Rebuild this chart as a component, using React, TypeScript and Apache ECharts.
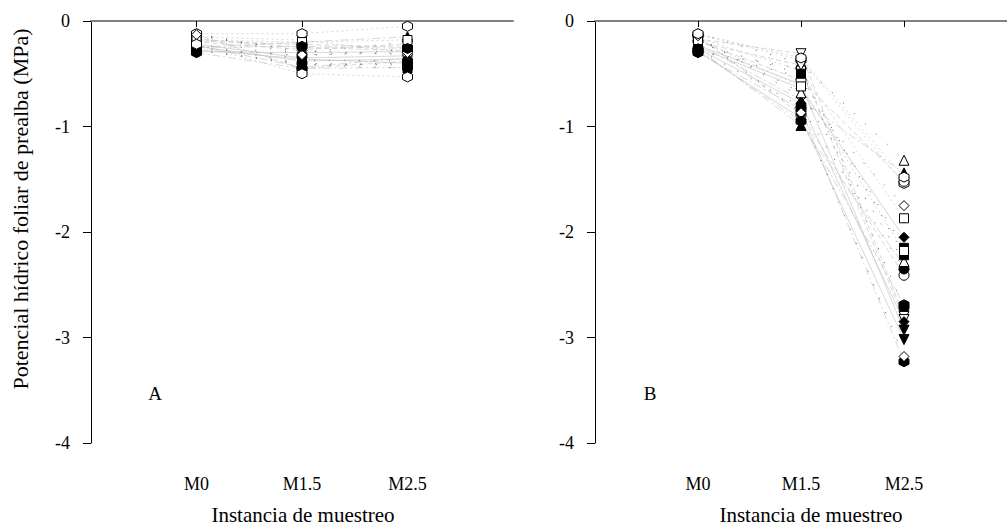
import React, { useEffect, useRef } from "react";
import * as echarts from "echarts";

const xLabels = ["M0", "M1.5", "M2.5"];
const yTicks = [0, -1, -2, -3, -4];

// Panel A (well-watered): values per plant at M0, M1.5, M2.5
const aM0 = [-0.28, -0.13, -0.25, -0.12, -0.22, -0.17, -0.27, -0.15, -0.24, -0.14, -0.3, -0.12, -0.26, -0.19, -0.23, -0.16, -0.29, -0.2, -0.21, -0.18, -0.27, -0.13, -0.25, -0.22];
const aM15 = [-0.4, -0.45, -0.2, -0.3, -0.35, -0.25, -0.42, -0.18, -0.38, -0.28, -0.45, -0.12, -0.33, -0.22, -0.44, -0.37, -0.3, -0.27, -0.41, -0.2, -0.36, -0.32, -0.24, -0.5];
const aM25 = [-0.42, -0.38, -0.15, -0.2, -0.33, -0.28, -0.4, -0.3, -0.36, -0.32, -0.44, -0.05, -0.27, -0.25, -0.35, -0.38, -0.29, -0.22, -0.45, -0.18, -0.4, -0.3, -0.26, -0.53];

// Panel B (drought)
const bM0 = [-0.29, -0.14, -0.26, -0.12, -0.23, -0.17, -0.28, -0.16, -0.25, -0.15, -0.3, -0.13, -0.27, -0.19, -0.22, -0.16, -0.29, -0.2, -0.21, -0.18, -0.26, -0.14, -0.28, -0.12];
const bM15 = [-0.45, -0.89, -0.99, -0.4, -0.6, -0.31, -0.53, -0.47, -0.64, -0.72, -0.84, -0.37, -0.81, -0.56, -0.75, -0.68, -0.92, -0.42, -0.5, -0.62, -0.78, -0.87, -0.95, -0.35];
const bM25 = [-2.72, -2.41, -2.31, -1.32, -2.93, -2.8, -2.15, -1.87, -2.05, -1.75, -3.23, -1.54, -2.35, -1.52, -1.44, -2.28, -3.02, -2.83, -2.22, -2.18, -2.85, -3.18, -2.69, -1.48];

const TRI_DOWN = "path://M0,0L10,0L5,9Z";
const HEX = "path://M5,0L9.33,2.5L9.33,7.5L5,10L0.67,7.5L0.67,2.5Z";
const shapes = ["circle", "triangle", TRI_DOWN, "rect", "diamond", HEX];
const dashes: any[] = ["solid", [5, 3], [8, 3, 2, 3], [2, 3]];

const FONT = "Liberation Serif";

function buildSeries(m0: number[], m15: number[], m25: number[], axisIdx: number) {
  return m0.map((_, i) => {
    const shape = shapes[Math.floor(i / 2) % shapes.length];
    const filled = i % 2 === 0;
    const blackDots = i % 3 === 0;
    return {
      type: "line",
      xAxisIndex: axisIdx,
      yAxisIndex: axisIdx,
      data: [
        [1, m0[i]],
        [2, m15[i]],
        [3, m25[i]],
      ],
      symbol: shape,
      symbolSize: shape === "rect" ? 9 : 10,
      showSymbol: true,
      lineStyle: blackDots
        ? { color: "#333", width: 0.8, type: [1, 14] }
        : { color: "#bdbdbd", width: 0.6, type: dashes[i % dashes.length] },
      itemStyle: {
        color: filled ? "#000" : "#fff",
        borderColor: "#000",
        borderWidth: 1,
      },
      emphasis: { disabled: true },
      z: 2,
    };
  });
}

function makeXAxis(gridIndex: number) {
  return {
    type: "value",
    gridIndex,
    min: 0,
    max: 4,
    interval: 1,
    axisLine: { show: true, lineStyle: { color: "#808080", width: 2 } },
    axisTick: { show: true, customValues: [1, 2, 3], length: 6, lineStyle: { color: "#000", width: 1 } },
    axisLabel: {
      customValues: [1, 2, 3],
      formatter: (v: number) => xLabels[Math.round(v) - 1] ?? "",
      color: "#000",
      fontFamily: FONT,
      fontSize: 18,
      margin: 32,
    },
    splitLine: { show: false },
  };
}

function makeYAxis(gridIndex: number) {
  return {
    type: "value",
    gridIndex,
    min: -4,
    max: 0,
    interval: 1,
    axisLine: { show: true, lineStyle: { color: "#000", width: 1 } },
    axisTick: { show: true, length: 8, lineStyle: { color: "#000", width: 1 } },
    axisLabel: {
      formatter: (v: number) => (yTicks.includes(v) ? String(v) : ""),
      color: "#000",
      fontFamily: FONT,
      fontSize: 18,
      margin: 21,
    },
    splitLine: { show: false },
  };
}

export default function App() {
  const ref = useRef<HTMLDivElement>(null);
  useEffect(() => {
    if (!ref.current) return;
    const chart = echarts.init(ref.current, null, { renderer: "svg" });
    chart.setOption({
      animation: false,
      backgroundColor: "#fff",
      grid: [
        { left: 91, top: 21, width: 422, height: 422 },
        { left: 595, top: 21, width: 422, height: 422 },
      ],
      xAxis: [makeXAxis(0), makeXAxis(1)],
      yAxis: [makeYAxis(0), makeYAxis(1)],
      series: [
        ...buildSeries(aM0, aM15, aM25, 0),
        ...buildSeries(bM0, bM15, bM25, 1),
      ],
      graphic: [
        {
          type: "text",
          x: 20,
          y: 209,
          rotation: Math.PI / 2,
          style: {
            text: "Potencial hídrico foliar de prealba (MPa)",
            font: `22px "${FONT}"`,
            fill: "#000",
            align: "center",
            verticalAlign: "middle",
          },
        },
        {
          type: "text",
          x: 303,
          y: 515,
          style: {
            text: "Instancia de muestreo",
            font: `21px "${FONT}"`,
            fill: "#000",
            align: "center",
            verticalAlign: "middle",
          },
        },
        {
          type: "text",
          x: 811,
          y: 515,
          style: {
            text: "Instancia de muestreo",
            font: `21px "${FONT}"`,
            fill: "#000",
            align: "center",
            verticalAlign: "middle",
          },
        },
        {
          type: "text",
          x: 155,
          y: 393,
          style: { text: "A", font: `19px "${FONT}"`, fill: "#000", align: "center", verticalAlign: "middle" },
        },
        {
          type: "text",
          x: 650,
          y: 393,
          style: { text: "B", font: `19px "${FONT}"`, fill: "#000", align: "center", verticalAlign: "middle" },
        },
      ],
    });
    return () => chart.dispose();
  }, []);
  return (
    <div
      ref={ref}
      style={{ position: "fixed", left: 0, top: 0, width: 1007, height: 528, background: "#fff" }}
    />
  );
}
